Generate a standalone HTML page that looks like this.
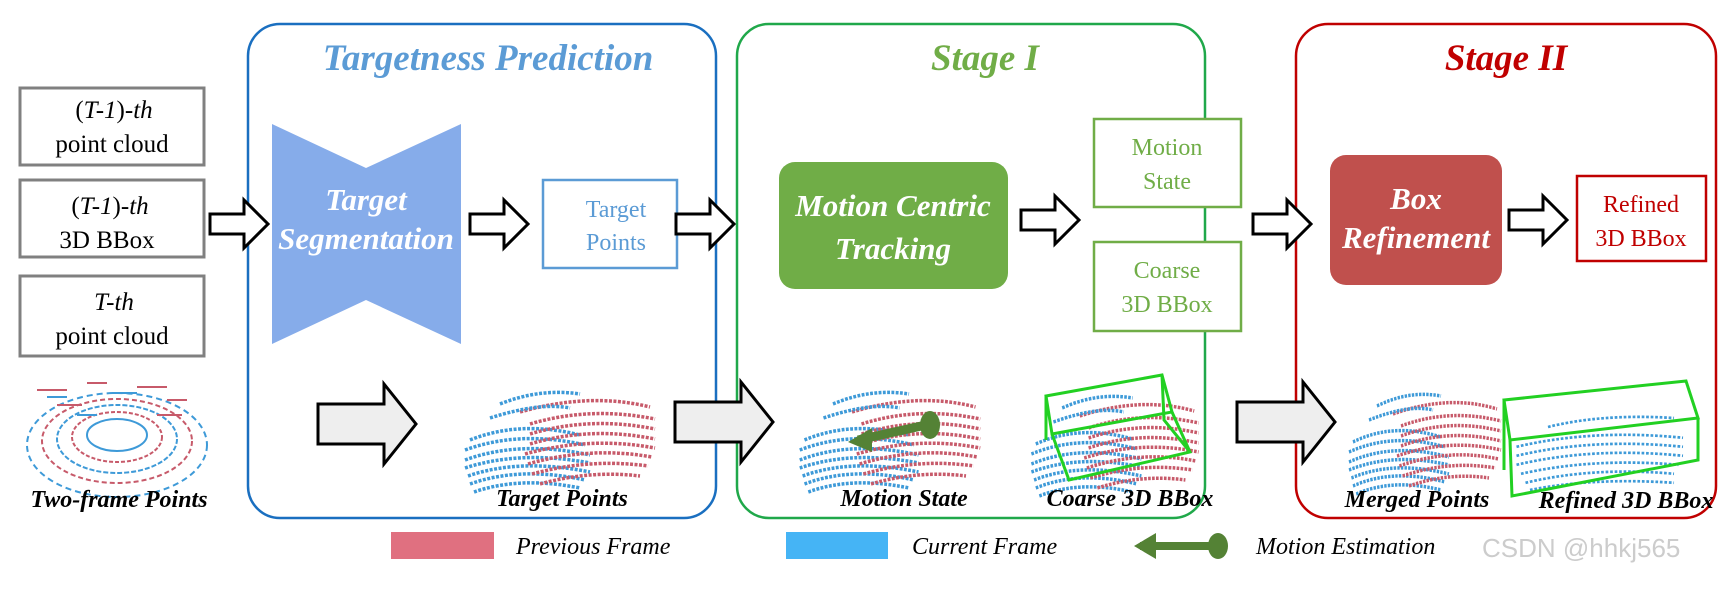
<!DOCTYPE html>
<html><head><meta charset="utf-8"><style>
body{margin:0;background:#fff;}
svg text{font-family:"Liberation Serif",serif;}
</style></head><body>
<svg width="1728" height="584" viewBox="0 0 1728 584" xmlns="http://www.w3.org/2000/svg">
<defs>
<g id="ha"><path d="M0,-10 H34 V-24 L58,0 L34,24 V10 H0 Z" fill="#fff" stroke="#000" stroke-width="3"/></g>
<g id="ga"><path d="M0,-20 H66 V-40 L98,0 L66,40 V20 H0 Z" fill="#eee" stroke="#000" stroke-width="3"/></g>
<g id="pc">
<g stroke-dasharray="3 1.5" stroke-width="3.5" fill="none">
<path d="M10,52 Q60,32 120,47" stroke="#3e9ad8"/>
<path d="M5,62 Q60,42 125,57" stroke="#3e9ad8"/>
<path d="M5,72 Q60,52 130,67" stroke="#3e9ad8"/>
<path d="M5,80 Q60,62 130,75" stroke="#3e9ad8"/>
<path d="M8,88 Q60,70 130,84" stroke="#3e9ad8"/>
<path d="M10,96 Q60,78 125,92" stroke="#3e9ad8"/>
<path d="M14,104 Q60,88 120,100" stroke="#3e9ad8"/>
<path d="M60,24 Q130,4 190,19" stroke="#c75a6a"/>
<path d="M70,36 Q130,18 195,31" stroke="#c75a6a"/>
<path d="M70,46 Q130,28 195,41" stroke="#c75a6a"/>
<path d="M70,56 Q130,38 195,51" stroke="#c75a6a"/>
<path d="M65,66 Q130,48 195,60" stroke="#c75a6a"/>
<path d="M68,76 Q130,58 192,69" stroke="#c75a6a"/>
<path d="M72,86 Q130,70 188,78" stroke="#c75a6a"/>
<path d="M80,96 Q130,82 180,88" stroke="#c75a6a"/>
<path d="M40,16 Q80,0 120,6" stroke="#3e9ad8"/>
<path d="M30,30 Q80,14 110,20" stroke="#3e9ad8"/>
</g></g>
</defs>

<!-- panels -->
<rect x="248" y="24" width="468" height="494" rx="32" fill="none" stroke="#1a6fc0" stroke-width="2.5"/>
<rect x="737" y="24" width="468" height="494" rx="32" fill="none" stroke="#20a84a" stroke-width="2.5"/>
<rect x="1296" y="24" width="420" height="494" rx="32" fill="none" stroke="#c00000" stroke-width="2.5"/>

<text x="488" y="70" text-anchor="middle" font-size="37" font-weight="bold" font-style="italic" fill="#5b9bd5">Targetness Prediction</text>
<text x="985" y="70" text-anchor="middle" font-size="37" font-weight="bold" font-style="italic" fill="#70ad47">Stage I</text>
<text x="1506" y="70" text-anchor="middle" font-size="37" font-weight="bold" font-style="italic" fill="#c00000">Stage II</text>

<!-- input boxes -->
<g fill="#fff" stroke="#808080" stroke-width="3">
<rect x="20" y="88" width="184" height="77"/>
<rect x="20" y="180" width="184" height="77"/>
<rect x="20" y="276" width="184" height="80"/>
</g>
<g font-size="25" text-anchor="middle" fill="#000">
<text x="114" y="118">(<tspan font-style="italic">T-1</tspan>)-<tspan font-style="italic">th</tspan></text>
<text x="112" y="152">point cloud</text>
<text x="110" y="214">(<tspan font-style="italic">T-1</tspan>)-<tspan font-style="italic">th</tspan></text>
<text x="107" y="248">3D BBox</text>
<text x="114" y="310" font-style="italic">T-th</text>
<text x="112" y="344">point cloud</text>
</g>

<!-- hourglass -->
<path d="M272,124 L366,168 L461,124 V344 L366,300 L272,344 Z" fill="#86acea"/>
<text x="366" y="210" text-anchor="middle" font-size="31" font-weight="bold" font-style="italic" fill="#fff">Target</text>
<text x="366" y="249" text-anchor="middle" font-size="31" font-weight="bold" font-style="italic" fill="#fff">Segmentation</text>

<rect x="543" y="180" width="134" height="88" fill="#fff" stroke="#5b9bd5" stroke-width="2.5"/>
<text x="616" y="217" text-anchor="middle" font-size="24" fill="#5b9bd5">Target</text>
<text x="616" y="250" text-anchor="middle" font-size="24" fill="#5b9bd5">Points</text>

<rect x="779" y="162" width="229" height="127" rx="16" fill="#70ad47"/>
<text x="893" y="216" text-anchor="middle" font-size="31" font-weight="bold" font-style="italic" fill="#fff">Motion Centric</text>
<text x="893" y="259" text-anchor="middle" font-size="31" font-weight="bold" font-style="italic" fill="#fff">Tracking</text>

<rect x="1094" y="119" width="147" height="88" fill="#fff" stroke="#70ad47" stroke-width="2.5"/>
<text x="1167" y="155" text-anchor="middle" font-size="24" fill="#70ad47">Motion</text>
<text x="1167" y="189" text-anchor="middle" font-size="24" fill="#70ad47">State</text>
<rect x="1094" y="242" width="147" height="89" fill="#fff" stroke="#70ad47" stroke-width="2.5"/>
<text x="1167" y="278" text-anchor="middle" font-size="24" fill="#70ad47">Coarse</text>
<text x="1167" y="312" text-anchor="middle" font-size="24" fill="#70ad47">3D BBox</text>

<rect x="1330" y="155" width="172" height="130" rx="16" fill="#c0504d"/>
<text x="1416" y="209" text-anchor="middle" font-size="31" font-weight="bold" font-style="italic" fill="#fff">Box</text>
<text x="1416" y="248" text-anchor="middle" font-size="31" font-weight="bold" font-style="italic" fill="#fff">Refinement</text>

<rect x="1577" y="176" width="129" height="85" fill="#fff" stroke="#c00000" stroke-width="2.5"/>
<text x="1641" y="212" text-anchor="middle" font-size="24" fill="#c00000">Refined</text>
<text x="1641" y="246" text-anchor="middle" font-size="24" fill="#c00000">3D BBox</text>

<!-- hollow arrows -->
<use href="#ha" x="210" y="224"/>
<use href="#ha" x="470" y="224"/>
<use href="#ha" x="676" y="224"/>
<use href="#ha" x="1021" y="220"/>
<use href="#ha" x="1253" y="224"/>
<use href="#ha" x="1509" y="220"/>

<!-- gray arrows -->
<use href="#ga" x="318" y="424"/>
<use href="#ga" x="675" y="422"/>
<use href="#ga" x="1237" y="422"/>

<!-- point clouds -->
<g transform="translate(17,375)">
<g stroke-width="2" fill="none">
<ellipse cx="100" cy="60" rx="30" ry="16" stroke="#3e9ad8"/>
<ellipse cx="100" cy="62" rx="45" ry="25" stroke="#c75a6a" stroke-dasharray="4 2"/>
<ellipse cx="100" cy="64" rx="60" ry="34" stroke="#3e9ad8" stroke-dasharray="5 2"/>
<ellipse cx="100" cy="66" rx="75" ry="42" stroke="#c75a6a" stroke-dasharray="5 3"/>
<ellipse cx="100" cy="70" rx="90" ry="52" stroke="#3e9ad8" stroke-dasharray="6 4"/>
<path d="M20,15 h30 M70,8 h20 M120,12 h30 M150,25 h20 M40,30 h25 M140,40 h25" stroke="#c75a6a"/>
<path d="M30,22 h20 M95,18 h25 M60,40 h20" stroke="#3e9ad8"/>
</g></g>
<use href="#pc" transform="translate(460,388)"/>
<use href="#pc" transform="translate(795,388) scale(0.95,1)"/>
<use href="#pc" transform="translate(1027,392) scale(0.88,1)"/>
<use href="#pc" transform="translate(1345,390) scale(0.8,1)"/>
<g transform="translate(1512,400) scale(0.9,0.9)"><path d="M5,52 Q90,32 190,42 M5,62 Q90,42 190,52 M5,72 Q90,52 190,62 M10,82 Q90,64 185,72 M15,92 Q90,74 180,82 M20,100 Q90,86 180,92 M40,30 Q100,15 180,20" stroke="#3e9ad8" stroke-width="3" stroke-dasharray="3 2" fill="none"/></g>

<!-- motion arrow on cloud -->
<path d="M935,423 L858,440" stroke="#548235" stroke-width="9"/>
<path d="M848,442 L872,428 L872,452 Z" fill="#548235"/>
<ellipse cx="930" cy="425" rx="10" ry="14" fill="#548235"/>

<!-- green boxes -->
<g fill="none" stroke="#22d022" stroke-width="3">
<path d="M1046,396 L1162,375 L1172,412 L1052,434 Z"/>
<path d="M1052,434 L1069,480 L1190,452 L1172,412"/>
<path d="M1046,396 L1046,440 M1162,375 L1164,420 L1190,452"/>
<path d="M1504,400 L1686,381 L1698,418 L1510,440 Z"/>
<path d="M1510,440 L1512,496 L1698,460 L1698,418 M1504,400 L1504,470"/>
</g>

<!-- bottom labels -->
<g font-size="24" font-weight="bold" font-style="italic" text-anchor="middle" fill="#000">
<text x="119" y="507">Two-frame Points</text>
<text x="562" y="506">Target Points</text>
<text x="904" y="506">Motion State</text>
<text x="1130" y="506">Coarse 3D BBox</text>
<text x="1417" y="507">Merged Points</text>
<text x="1626" y="508">Refined 3D BBox</text>
</g>

<!-- legend -->
<rect x="391" y="532" width="103" height="27" fill="#e07080"/>
<text x="516" y="554" font-size="24" font-style="italic">Previous Frame</text>
<rect x="786" y="532" width="102" height="27" fill="#45b4f5"/>
<text x="912" y="554" font-size="24" font-style="italic">Current Frame</text>
<path d="M1140,546 H1215" stroke="#548235" stroke-width="8"/>
<path d="M1134,546 L1156,533 L1156,559 Z" fill="#548235"/>
<ellipse cx="1218" cy="546" rx="10" ry="13" fill="#548235"/>
<text x="1256" y="554" font-size="24" font-style="italic">Motion Estimation</text>
<text x="1482" y="557" font-size="26" fill="#ccc" style="font-family:'Liberation Sans',sans-serif">CSDN @hhkj565</text>
</svg>
</body></html>
